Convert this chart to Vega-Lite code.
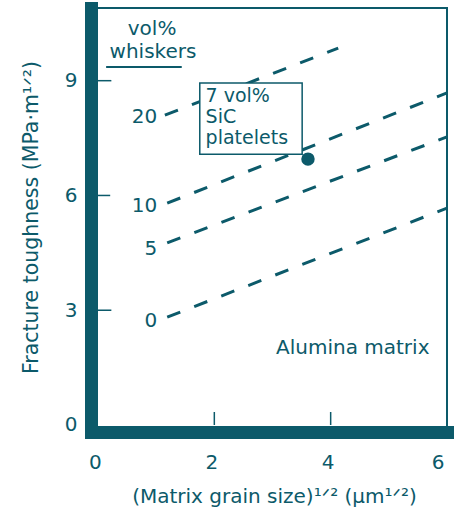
{
  "$schema": "https://vega.github.io/schema/vega-lite/v6.json",
  "width": 356,
  "height": 424,
  "autosize": "none",
  "padding": {"left": 91, "top": 8, "right": 10, "bottom": 75},
  "background": "white",
  "config": {
    "view": {"stroke": "#0c5a6a", "strokeWidth": 2},
    "font": "DejaVu Sans",
    "axis": {
      "grid": false,
      "domainColor": "#0c5a6a",
      "domainWidth": 13,
      "domainCap": "square",
      "ticks": false,
      "labelColor": "#0c5a6a",
      "labelFont": "DejaVu Sans",
      "labelFontSize": 20,
      "titleColor": "#0c5a6a",
      "titleFont": "DejaVu Sans",
      "titleFontSize": 20,
      "titleFontWeight": "normal"
    }
  },
  "datasets": {
    "lines": [
      {"series": "0", "x": 1.19, "y": 2.82},
      {"series": "0", "x": 6.0, "y": 5.67},
      {"series": "5", "x": 1.19, "y": 4.76},
      {"series": "5", "x": 6.0, "y": 7.53},
      {"series": "10", "x": 1.19, "y": 5.8},
      {"series": "10", "x": 6.0, "y": 8.68},
      {"series": "20", "x": 1.15, "y": 8.1},
      {"series": "20", "x": 4.13, "y": 9.85}
    ],
    "xticks": [{"v": 2}, {"v": 4}],
    "yticks": [
      {"tv": 3, "x1": 0, "x2": 0.23},
      {"tv": 6, "x1": 0, "x2": 0.21},
      {"tv": 9, "x1": 0, "x2": 0.23}
    ],
    "lineLabels": [
      {"label": "0", "x": 1.02, "y": 2.56},
      {"label": "5", "x": 1.02, "y": 4.44},
      {"label": "10", "x": 1.02, "y": 5.57},
      {"label": "20", "x": 1.02, "y": 7.89}
    ],
    "box": [{"x1": 1.75, "x2": 3.51, "y1": 7.08, "y2": 8.94}],
    "boxText": [
      {"label": "7 vol%\nSiC\nplatelets", "x": 1.85, "y": 8.44}
    ],
    "point": [{"x": 3.61, "y": 6.95}],
    "notes": [
      {"label": "vol%", "x": 0.93, "y": 10.19},
      {"label": "whiskers", "x": 0.945, "y": 9.59},
      {"label": "Alumina matrix", "x": 4.38, "y": 1.86}
    ],
    "underline": [{"x1": 0.14, "x2": 1.44, "y": 9.36}]
  },
  "layer": [
    {
      "data": {"name": "lines"},
      "mark": {"type": "line", "color": "#0c5a6a", "strokeWidth": 3, "strokeDash": [14, 15]},
      "encoding": {
        "x": {
          "field": "x", "type": "quantitative",
          "scale": {"domain": [-0.12, 6], "nice": false, "zero": false},
          "axis": {
            "values": [0, 2, 4, 6],
            "format": "d",
            "zindex": 1,
            "labelPadding": 20,
            "labelOffset": -3,
            "title": "(Matrix grain size)¹ᐟ² (μm¹ᐟ²)",
            "titleX": 183,
            "titleY": 70,
            "titleAlign": "center",
            "titleBaseline": "alphabetic"
          }
        },
        "y": {
          "field": "y", "type": "quantitative",
          "scale": {"domain": [-0.183, 10.9], "nice": false, "zero": false},
          "axis": {
            "values": [0, 3, 6, 9],
            "format": "d",
            "zindex": 1,
            "labelPadding": 14,
            "title": "Fracture toughness (MPa·m¹ᐟ²)",
            "titleFontSize": 20.5,
            "titleX": -54,
            "titleY": 209,
            "titleAngle": -90,
            "titleAlign": "center",
            "titleBaseline": "alphabetic"
          }
        },
        "detail": {"field": "series", "type": "nominal"}
      }
    },
    {
      "data": {"name": "xticks"},
      "mark": {"type": "rule", "color": "#0c5a6a", "strokeWidth": 1.5},
      "encoding": {
        "x": {"field": "v", "type": "quantitative"},
        "y": {"datum": 0},
        "y2": {"datum": 0.34}
      }
    },
    {
      "data": {"name": "yticks"},
      "mark": {"type": "rule", "color": "#0c5a6a", "strokeWidth": 1.5},
      "encoding": {
        "x": {"field": "x1", "type": "quantitative"},
        "x2": {"field": "x2"},
        "y": {"field": "tv", "type": "quantitative"}
      }
    },
    {
      "data": {"name": "box"},
      "mark": {"type": "rect", "fill": "white", "stroke": "#0c5a6a", "strokeWidth": 1.5},
      "encoding": {
        "x": {"field": "x1", "type": "quantitative"},
        "x2": {"field": "x2"},
        "y": {"field": "y1", "type": "quantitative"},
        "y2": {"field": "y2"}
      }
    },
    {
      "data": {"name": "point"},
      "mark": {"type": "point", "filled": true, "size": 180, "color": "#0c5a6a", "opacity": 1},
      "encoding": {
        "x": {"field": "x", "type": "quantitative"},
        "y": {"field": "y", "type": "quantitative"}
      }
    },
    {
      "data": {"name": "lineLabels"},
      "mark": {"type": "text", "align": "right", "baseline": "alphabetic", "fontSize": 20, "color": "#0c5a6a", "font": "DejaVu Sans"},
      "encoding": {
        "x": {"field": "x", "type": "quantitative"},
        "y": {"field": "y", "type": "quantitative"},
        "text": {"field": "label"}
      }
    },
    {
      "data": {"name": "boxText"},
      "mark": {"type": "text", "align": "left", "baseline": "alphabetic", "fontSize": 19, "lineHeight": 21, "lineBreak": "\n", "color": "#0c5a6a", "font": "DejaVu Sans"},
      "encoding": {
        "x": {"field": "x", "type": "quantitative"},
        "y": {"field": "y", "type": "quantitative"},
        "text": {"field": "label"}
      }
    },
    {
      "data": {"name": "notes"},
      "mark": {"type": "text", "align": "center", "baseline": "alphabetic", "fontSize": 20, "color": "#0c5a6a", "font": "DejaVu Sans"},
      "encoding": {
        "x": {"field": "x", "type": "quantitative"},
        "y": {"field": "y", "type": "quantitative"},
        "text": {"field": "label"}
      }
    },
    {
      "data": {"name": "underline"},
      "mark": {"type": "rule", "color": "#0c5a6a", "strokeWidth": 2},
      "encoding": {
        "x": {"field": "x1", "type": "quantitative"},
        "x2": {"field": "x2"},
        "y": {"field": "y", "type": "quantitative"}
      }
    }
  ]
}
